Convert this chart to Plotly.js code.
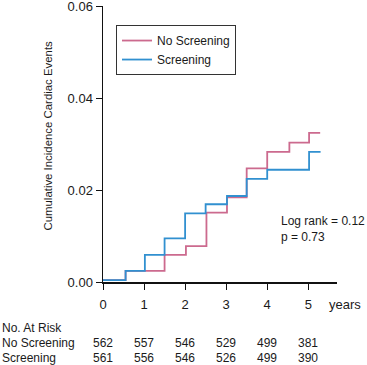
<!DOCTYPE html>
<html>
<head>
<meta charset="utf-8">
<script src="https://cdn.plot.ly/plotly-3.0.1.min.js"></script>
<style>html,body{margin:0;padding:0;background:#fff;}#chart{width:367px;height:365px;}</style>
</head>
<body>
<div id="chart"></div>
<script>
const noScreenTimes = [0, 0.55, 1.5, 2.02, 2.52, 3.02, 3.5, 4.0, 4.54, 5.02, 5.29];
const noScreenValues = [0.0004, 0.0024, 0.0059, 0.0078, 0.0151, 0.0184, 0.0247, 0.0283, 0.0303, 0.0324, 0.0324];
const screenTimes = [0, 0.55, 1.02, 1.5, 2.0, 2.5, 3.02, 3.5, 4.0, 5.02, 5.3];
const screenValues = [0.0004, 0.0024, 0.0059, 0.0095, 0.0149, 0.0169, 0.0187, 0.0224, 0.0244, 0.0283, 0.0283];
const riskYears = [0, 1, 2, 3, 4, 5];
const riskNoScreening = [562, 557, 546, 529, 499, 381];
const riskScreening = [561, 556, 546, 526, 499, 390];
const yTicks = [0, 0.02, 0.04, 0.06];
const yTickLabels = ["0.00", "0.02", "0.04", "0.06"];

const fam = '"Liberation Sans", Arial, sans-serif';
const font = {family: fam, size: 12, color: '#1a1a1a'};
const tickFont = {family: fam, size: 13, color: '#1a1a1a'};
const traces = [
  {x: noScreenTimes, y: noScreenValues, mode: 'lines', line: {shape: 'hv', color: '#cc6a8e', width: 1.8}, name: 'No Screening'},
  {x: screenTimes, y: screenValues, mode: 'lines', line: {shape: 'hv', color: '#3190d0', width: 1.8}, name: 'Screening'}
];
const rowY = {head: -0.1656, no: -0.22, scr: -0.2764};
const annotations = [
  {xref: 'x', yref: 'y', x: 4.29, y: 0.0115, xanchor: 'left', yanchor: 'middle', align: 'left', showarrow: false, text: 'Log rank = 0.12<br>p = 0.73', font: font},
  {xref: 'paper', yref: 'paper', x: 0.957, y: -0.0808, xanchor: 'left', yanchor: 'middle', showarrow: false, text: 'years', font: tickFont},
  {xref: 'paper', yref: 'paper', x: -0.237, y: 0.529, xanchor: 'center', yanchor: 'middle', textangle: -90, showarrow: false, text: 'Cumulative Incidence Cardiac Events', font: {family: fam, size: 11.4, color: '#1a1a1a'}},
  {xref: 'paper', yref: 'paper', x: -0.44, y: rowY.head, xanchor: 'left', yanchor: 'middle', showarrow: false, text: 'No. At Risk', font: font},
  {xref: 'paper', yref: 'paper', x: -0.44, y: rowY.no, xanchor: 'left', yanchor: 'middle', showarrow: false, text: 'No Screening', font: font},
  {xref: 'paper', yref: 'paper', x: -0.44, y: rowY.scr, xanchor: 'left', yanchor: 'middle', showarrow: false, text: 'Screening', font: font}
];
riskYears.forEach((t, i) => {
  annotations.push({xref: 'x', yref: 'paper', x: t, y: rowY.no, xanchor: 'center', yanchor: 'middle', showarrow: false, text: String(riskNoScreening[i]), font: font});
  annotations.push({xref: 'x', yref: 'paper', x: t, y: rowY.scr, xanchor: 'center', yanchor: 'middle', showarrow: false, text: String(riskScreening[i]), font: font});
});
const layout = {
  width: 367, height: 365,
  margin: {l: 103, r: 30, t: 6, b: 83},
  paper_bgcolor: '#fff', plot_bgcolor: '#fff',
  font: font,
  showlegend: true,
  legend: {x: 0.0556, y: 0.931, xanchor: 'left', yanchor: 'top', bordercolor: '#333', borderwidth: 1, bgcolor: 'rgba(255,255,255,0)', font: font},
  xaxis: {range: [0, 5.7], tickvals: riskYears, ticktext: riskYears.map(String), showgrid: false, zeroline: false, showline: true, linecolor: '#111', linewidth: 1.5, ticks: 'outside', ticklen: 6, tickcolor: '#111', tickfont: tickFont, ticklabelstandoff: 4, fixedrange: true},
  yaxis: {range: [0, 0.06], tickvals: yTicks, ticktext: yTickLabels, showgrid: false, zeroline: false, showline: true, linecolor: '#111', linewidth: 1.5, ticks: 'outside', ticklen: 6, tickcolor: '#111', tickfont: tickFont, ticklabeloverflow: 'allow', fixedrange: true},
  annotations: annotations
};
Plotly.newPlot('chart', traces, layout, {displayModeBar: false, staticPlot: true});
</script>
</body>
</html>
